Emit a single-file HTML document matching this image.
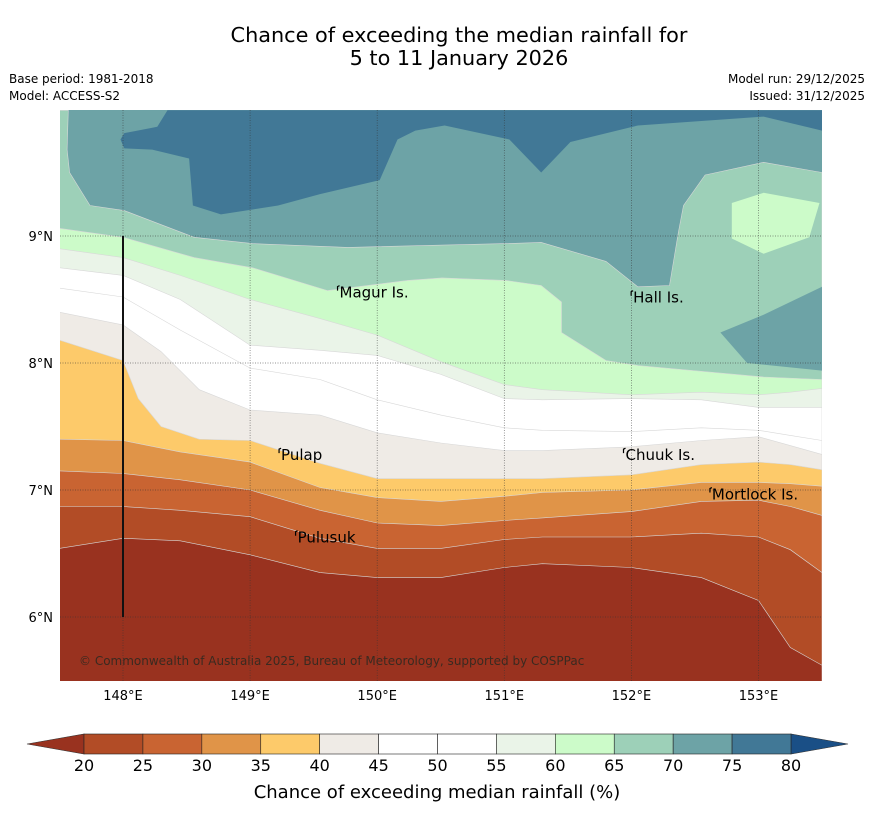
<!DOCTYPE html>
<html><head><meta charset="utf-8"><style>
body{margin:0;background:#fff;width:873px;height:816px;overflow:hidden;font-family:"DejaVu Sans","Liberation Sans",sans-serif}
</style></head><body>
<svg id="chart" width="873" height="816" xmlns="http://www.w3.org/2000/svg" font-family="DejaVu Sans, Liberation Sans, sans-serif">
<text x="459" y="42" font-size="20.8" text-anchor="middle">Chance of exceeding the median rainfall for</text>
<text x="459" y="65" font-size="20.8" text-anchor="middle">5 to 11 January 2026</text>
<text x="9" y="83" font-size="12">Base period: 1981-2018</text>
<text x="9" y="100" font-size="12">Model: ACCESS-S2</text>
<text x="865" y="83" font-size="12" text-anchor="end">Model run: 29/12/2025</text>
<text x="865" y="100" font-size="12" text-anchor="end">Issued: 31/12/2025</text>
<defs><clipPath id="mapclip"><rect x="60" y="110" width="762" height="571"/></clipPath></defs>
<g id="map" clip-path="url(#mapclip)"></g>
<g id="overlay"></g>
<g id="cbar"></g>
<text x="437" y="798" font-size="18" text-anchor="middle">Chance of exceeding median rainfall (%)</text>
</svg>
<script>
const levels=[20,25,30,35,40,45,50,55,60,65,70,75,80];
const bandColors=["#99321f","#b24c26","#c96432","#e09448","#fdca6a","#efebe6","#ffffff","#ffffff","#eaf4e8","#ccfbc9","#9dd0b8","#6da3a6","#417896","#1a4f86"];
const lonTicks=[148,149,150,151,152,153];
const latTicks=[6,7,8,9];
const L=[147.5,148,148.45,149,149.55,150,150.5,151,151.3,152,152.55,153,153.25,153.5];
const c20=[6.54,6.62,6.60,6.49,6.35,6.31,6.31,6.39,6.42,6.39,6.31,6.13,5.76,5.62];
const c25=[6.87,6.87,6.84,6.79,6.62,6.54,6.54,6.61,6.63,6.63,6.66,6.63,6.53,6.35];
const c30=[7.15,7.13,7.08,7.00,6.84,6.74,6.72,6.76,6.78,6.83,6.91,6.92,6.87,6.80];
const c35=[7.40,7.39,7.30,7.22,7.02,6.94,6.91,6.95,6.98,7.00,7.06,7.06,7.05,7.03];
const c40Lon=[147.5,148,148.12,148.3,148.6,149,149.55,150,150.5,151,151.3,152,152.55,153,153.25,153.5];
const c40=[8.18,8.02,7.72,7.50,7.40,7.39,7.21,7.09,7.09,7.09,7.09,7.12,7.20,7.22,7.20,7.16];
const c45Lon=[147.5,148,148.3,148.6,149,149.55,150,150.5,151,151.3,152,152.55,153,153.25,153.5];
const c45=[8.40,8.30,8.09,7.79,7.63,7.59,7.45,7.37,7.31,7.31,7.34,7.39,7.42,7.35,7.28];
const c50=[8.59,8.52,8.26,7.96,7.87,7.71,7.59,7.49,7.47,7.46,7.49,7.47,7.43,7.39];
const c55=[8.75,8.69,8.50,8.14,8.10,8.06,7.91,7.72,7.71,7.72,7.71,7.65,7.65,7.65];
const c60=[8.90,8.83,8.69,8.50,8.35,8.22,8.01,7.83,7.79,7.75,7.77,7.75,7.77,7.80];
const c65Lon=[147.5,148,148.56,149.02,149.61,150.24,150.51,151.01,151.29,151.45,151.45,151.80,152.05,153.04,153.5];
const c65Lat=[9.06,8.99,8.83,8.75,8.57,8.65,8.67,8.65,8.61,8.48,8.24,8.02,7.98,7.89,7.87];
const c70Lon=[147.5,147.57,147.56,147.58,147.74,148.01,148.56,149.02,149.77,151.01,151.29,151.80,152.05,152.30,152.37,152.41,152.58,153.04,153.5];
const c70Lat=[9.99,9.99,9.68,9.50,9.24,9.20,8.99,8.94,8.91,8.94,8.95,8.80,8.60,8.61,9.03,9.24,9.48,9.58,9.50];
const c75Lon=[148.35,148.27,148.01,147.98,148.01,148.23,148.52,148.55,148.77,149.22,149.55,150.02,150.16,150.30,150.53,151.04,151.29,151.52,152.05,153.04,153.5,153.5];
const c75Lat=[9.99,9.86,9.81,9.76,9.69,9.68,9.61,9.24,9.17,9.24,9.33,9.44,9.76,9.83,9.87,9.76,9.50,9.74,9.87,9.94,9.83,9.99];
const blobTealLon=[153.5,153.04,152.70,152.91,153.5];
const blobTealLat=[8.60,8.38,8.24,8.00,7.94];
const blobGreenLon=[152.79,153.04,153.48,153.40,153.04,152.79];
const blobGreenLat=[9.26,9.34,9.26,8.99,8.86,8.98];
const places=["Magur Is.","Hall Is.","Pulap","Chuuk Is.","Mortlock Is.","Pulusuk"];
const placeLon=[149.68,151.99,149.22,151.93,152.61,149.35];
const placeLat=[8.57,8.53,7.29,7.29,6.98,6.64];

const NS="http://www.w3.org/2000/svg";
const X=lon=>123+(lon-148)*127.1;
const Y=lat=>236-(lat-9)*127;
const LON0=147.5,LON1=153.5,LATB=5.49;
function mk(tag,attrs,parent){const e=document.createElementNS(NS,tag);for(const k in attrs)e.setAttribute(k,attrs[k]);parent.appendChild(e);return e;}
const map=document.getElementById('map'),ov=document.getElementById('overlay'),cb=document.getElementById('cbar');
function pts(lons,lats){return lons.map((v,i)=>X(v).toFixed(1)+","+Y(lats[i]).toFixed(1));}
function below(lons,lats,color,name){
  const p=pts(lons,lats);p.push(X(LON1)+","+Y(LATB));p.push(X(LON0)+","+Y(LATB));
  const e=mk('polygon',{points:p.join(' '),fill:color,stroke:'#d8d8d8','stroke-width':0.6},map);
  
  
}
function blob(lons,lats,color,name){
  const e=mk('polygon',{points:pts(lons,lats).join(' '),fill:color},map);
  
  
}
const bg=mk('rect',{x:60,y:110,width:762,height:571,fill:bandColors[11]},map);


blob(c75Lon,c75Lat,bandColors[12],'band-75-80');
below(c70Lon,c70Lat,bandColors[10],'band-65-70');
blob(blobTealLon,blobTealLat,bandColors[11],'band-70-75-east');
blob(blobGreenLon,blobGreenLat,bandColors[9],'band-60-65-northeast');
below(c65Lon,c65Lat,bandColors[9],'band-60-65');
below(L,c60,bandColors[8],'band-55-60');
below(L,c55,bandColors[7],'band-50-55');
below(L,c50,bandColors[6],'band-45-50');
below(c45Lon,c45,bandColors[5],'band-40-45');
below(c40Lon,c40,bandColors[4],'band-35-40');
below(L,c35,bandColors[3],'band-30-35');
below(L,c30,bandColors[2],'band-25-30');
below(L,c25,bandColors[1],'band-20-25');
below(L,c20,bandColors[0],'band-below-20');
lonTicks.forEach(v=>{
  const l=mk('line',{x1:X(v),x2:X(v),y1:110,y2:681,stroke:'#333','stroke-width':0.7,'stroke-dasharray':'1,1.5',opacity:0.7},ov);
  
  
  const t=mk('text',{x:X(v),y:700,'font-size':13,'text-anchor':'middle'},ov);t.textContent=v+'°E';
  
  
});
latTicks.forEach(v=>{
  const l=mk('line',{x1:60,x2:822,y1:Y(v),y2:Y(v),stroke:'#333','stroke-width':0.7,'stroke-dasharray':'1,1.5',opacity:0.7},ov);
  
  
  const t=mk('text',{x:53,y:Y(v)+5,'font-size':13,'text-anchor':'end'},ov);t.textContent=v+'°N';
  
  
});
const bl=mk('line',{x1:X(148),x2:X(148),y1:Y(9),y2:Y(6),stroke:'#111','stroke-width':2},ov);


places.forEach((n,i)=>{
  const px=X(placeLon[i])+3,py=Y(placeLat[i])+7;
  const t=mk('text',{x:px,y:py,'font-size':15},ov);t.textContent=n;
  
  
  const m=mk('path',{d:`M${px-2},${py-7} l0,-4 l2,-1`,stroke:'#000','stroke-width':1.2,fill:'none'},ov);
  
  
});
const cr=mk('text',{x:79,y:665,'font-size':12,fill:'#3a2a20'},ov);cr.textContent='© Commonwealth of Australia 2025, Bureau of Meteorology, supported by COSPPac';


const cx0=84,cx1=791,cy0=734,cy1=754,bw=(cx1-cx0)/(levels.length-1);
const lt=mk('polygon',{points:`27,744 ${cx0},${cy0} ${cx0},${cy1}`,fill:bandColors[0],stroke:'#333','stroke-width':0.6},cb);


const rt=mk('polygon',{points:`848,744 ${cx1},${cy0} ${cx1},${cy1}`,fill:bandColors[13],stroke:'#333','stroke-width':0.6},cb);


for(let i=0;i<levels.length-1;i++){
  const r=mk('rect',{x:cx0+i*bw,y:cy0,width:bw,height:cy1-cy0,fill:bandColors[i+1],stroke:'#222','stroke-width':0.6},cb);
  
  
}
levels.forEach((v,i)=>{
  const t=mk('text',{x:cx0+i*bw,y:771,'font-size':16,'text-anchor':'middle'},cb);t.textContent=v;
  
  
});
</script>
</body></html>
